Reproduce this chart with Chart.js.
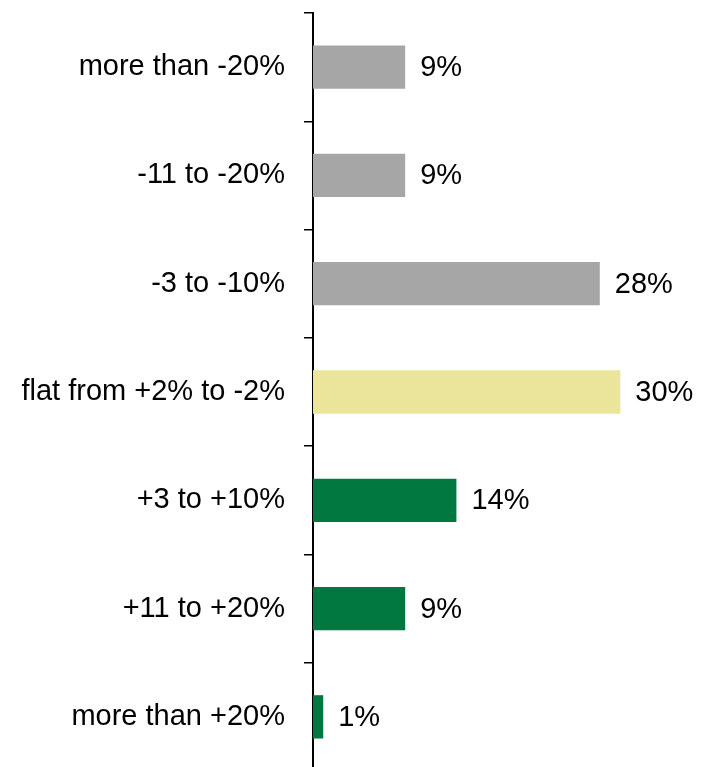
<!DOCTYPE html>
<html lang="en">
<head>
    <meta charset="UTF-8">
    <title>Expected change</title>
    <script src="https://cdn.jsdelivr.net/npm/chart.js"></script>
    <style>
        html, body { margin: 0; padding: 0; background: #fff; overflow: hidden; }
        canvas { display: block; }
    </style>
</head>
<body>
<canvas id="chart" width="705" height="772"></canvas>

<script>
    // Категории и значения (%)
    const categories = [
        'more than -20%',
        '-11 to -20%',
        '-3 to -10%',
        'flat from +2% to -2%',
        '+3 to +10%',
        '+11 to +20%',
        'more than +20%'
    ];
    const shares = [9, 9, 28, 30, 14, 9, 1];
    const barColors = ['#a6a6a6', '#a6a6a6', '#a6a6a6', '#eae59b', '#00783f', '#00783f', '#00783f'];

    const FONT = '"Liberation Sans", Arial, sans-serif';

    // подписи значений справа от столбцов
    const valueLabels = {
        id: 'valueLabels',
        afterDatasetsDraw(chart) {
            const ctx = chart.ctx;
            const meta = chart.getDatasetMeta(0);
            ctx.save();
            ctx.font = '29px ' + FONT;
            ctx.fillStyle = '#000';
            ctx.textAlign = 'left';
            ctx.textBaseline = 'middle';
            meta.data.forEach((bar, i) => {
                ctx.fillText(shares[i] + '%', bar.x + 15, bar.y + 1);
            });
            ctx.restore();
        }
    };

    new Chart(document.getElementById('chart').getContext('2d'), {
        type: 'bar',
        data: {
            labels: categories,
            datasets: [{
                data: shares,
                backgroundColor: barColors,
                borderWidth: 0,
                categoryPercentage: 0.8,
                barPercentage: 0.5
            }]
        },
        plugins: [valueLabels],
        options: {
            indexAxis: 'y',
            responsive: false,
            animation: false,
            layout: { padding: { top: 13, right: 13, bottom: 1, left: 0 } },
            plugins: {
                legend: { display: false },
                tooltip: { enabled: false }
            },
            scales: {
                x: {
                    display: false,
                    min: 0,
                    max: 37
                },
                y: {
                    // фиксированная ширина оси, без отступов под подписи
                    afterFit(scale) {
                        scale.width = 313;
                        scale.paddingTop = 0;
                        scale.paddingBottom = 0;
                    },
                    border: { display: true, color: '#000', width: 2 },
                    grid: {
                        drawOnChartArea: false,
                        drawTicks: true,
                        tickLength: 9,
                        color: '#000',
                        lineWidth: 1.5
                    },
                    ticks: {
                        color: '#000',
                        padding: 19,
                        font: { family: FONT, size: 29 }
                    }
                }
            }
        }
    });
</script>
</body>
</html>
